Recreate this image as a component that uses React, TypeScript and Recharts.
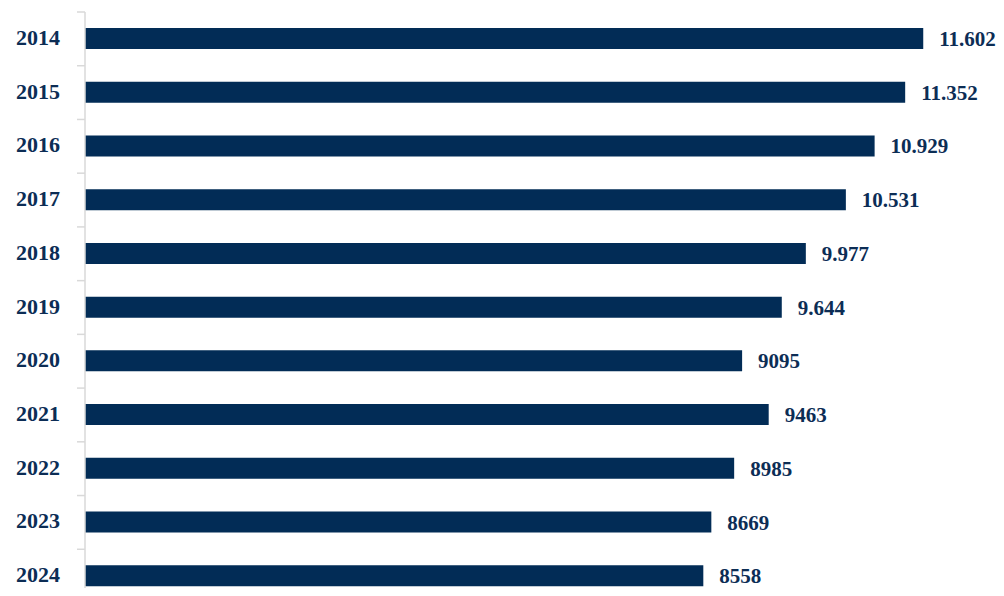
import { BarChart, Bar, XAxis, YAxis, LabelList } from 'recharts';

const YEARS = ['2014', '2015', '2016', '2017', '2018', '2019', '2020', '2021', '2022', '2023', '2024'];
const VALUES = [11602, 11352, 10929, 10531, 9977, 9644, 9095, 9463, 8985, 8669, 8558];
const VALUE_LABELS = ['11.602', '11.352', '10.929', '10.531', '9.977', '9.644', '9095', '9463', '8985', '8669', '8558'];

const NAVY = '#022c56';
const TEXT = '#0c2d55';
const FONT = '"Liberation Serif", "Times New Roman", serif';

const CHART_W = 1004;
const CHART_H = 603;
const TOP = 12;
const AXIS_W = 85;
const BAND = (CHART_H - TOP) / YEARS.length;

const data = YEARS.map((year, i) => ({ year, value: VALUES[i], label: VALUE_LABELS[i] }));

// year label at band centre, small tick mark at the band's top edge
function YearTick(props: any) {
  const { y, payload } = props;
  const top = y - BAND / 2;
  return (
    <g>
      <line x1={AXIS_W - 8} x2={AXIS_W} y1={top} y2={top} stroke="#d9d9d9" strokeWidth={1.5} />
      <text
        x={60}
        y={y}
        dy={6}
        textAnchor="end"
        fill={TEXT}
        fontFamily={FONT}
        fontWeight="bold"
        fontSize={22}
      >
        {payload.value}
      </text>
    </g>
  );
}

export default function App() {
  return (
    <div style={{ margin: -8, width: CHART_W, height: 596, overflow: 'hidden', background: '#fff' }}>
      <BarChart
        width={CHART_W}
        height={CHART_H}
        data={data}
        layout="vertical"
        margin={{ top: TOP, right: 52, bottom: 0, left: 0 }}
      >
        <XAxis type="number" domain={[0, 12000]} hide />
        <YAxis
          type="category"
          dataKey="year"
          width={AXIS_W}
          axisLine={{ stroke: '#d9d9d9', strokeWidth: 1.5 }}
          tickLine={false}
          tick={<YearTick />}
          interval={0}
        />
        <Bar dataKey="value" fill={NAVY} barSize={21} isAnimationActive={false}>
          <LabelList
            dataKey="label"
            position="right"
            offset={16}
            fill={TEXT}
            fontFamily={FONT}
            fontWeight="bold"
            fontSize={21}
          />
        </Bar>
      </BarChart>
    </div>
  );
}
